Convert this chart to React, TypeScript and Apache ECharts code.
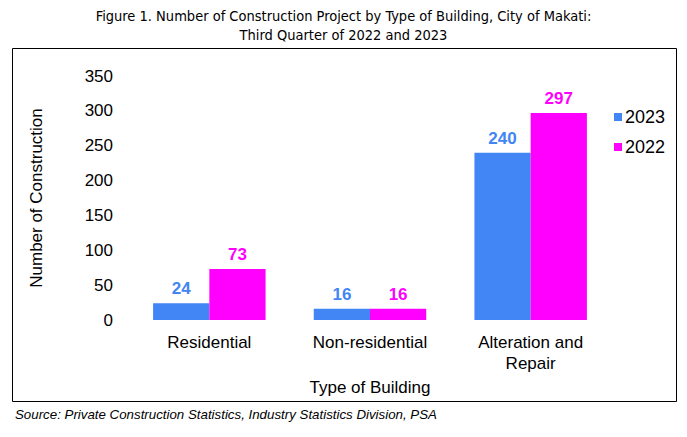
import React, { useEffect, useRef } from "react";
import * as echarts from "echarts";

const categories = ["Residential", "Non-residential", "Alteration and\nRepair"];
const values2023 = [24, 16, 240];
const values2022 = [73, 16, 297];
const seriesNames = ["2023", "2022"];
const colors = ["#4285F4", "#FF00FF"];

export default function App() {
  const ref = useRef<HTMLDivElement>(null);
  useEffect(() => {
    document.body.style.margin = "0";
    const chart = echarts.init(ref.current!, null, { renderer: "svg" });
    const font = "Liberation Sans, Arial, sans-serif";
    const mk = (name: string, data: number[], color: string) => ({
      name,
      type: "bar",
      data,
      barGap: "0%",
      barCategoryGap: "30%",
      itemStyle: { color },
      label: {
        show: true,
        position: "top",
        distance: 6,
        color,
        fontWeight: "bold",
        fontSize: 17,
        fontFamily: font,
      },
    });
    chart.setOption({
      animation: false,
      backgroundColor: "#fff",
      title: {
        text: "Figure 1. Number of Construction Project by Type of Building, City of Makati:\nThird Quarter of 2022 and 2023",
        left: "center",
        top: 2,
        textStyle: {
          fontFamily: "Liberation Sans Narrow, Arial Narrow, DejaVu Sans Condensed, Liberation Sans, sans-serif",
          fontWeight: "normal",
          fontSize: 14.5,
          lineHeight: 18.5,
          color: "#000",
        },
      },
      legend: {
        orient: "vertical",
        left: 609,
        top: 103,
        itemWidth: 8,
        itemHeight: 8,
        itemGap: 12,
        icon: "rect",
        data: seriesNames,
        textStyle: { fontSize: 18, fontFamily: font, color: "#000", padding: [0, 0, 0, -2] },
      },
      grid: { left: 129, right: 76, top: 76, bottom: 117 },
      xAxis: {
        type: "category",
        data: categories,
        name: "Type of Building",
        nameLocation: "middle",
        nameGap: 59,
        nameTextStyle: { fontSize: 17, fontFamily: font, color: "#000" },
        axisLine: { show: false },
        axisTick: { show: false },
        axisLabel: { fontSize: 17, fontFamily: font, color: "#000", lineHeight: 21, margin: 12 },
      },
      yAxis: {
        type: "value",
        min: 0,
        max: 350,
        interval: 50,
        name: "Number of Construction",
        nameLocation: "middle",
        nameGap: 84,
        nameTextStyle: { fontSize: 17, fontFamily: font, color: "#000" },
        splitLine: { show: false },
        axisLine: { show: false },
        axisTick: { show: false },
        axisLabel: { fontSize: 17, fontFamily: font, color: "#000", margin: 16 },
      },
      series: [
        mk(seriesNames[0], values2023, colors[0]),
        mk(seriesNames[1], values2022, colors[1]),
      ],
      graphic: [
        {
          type: "rect",
          shape: { x: 12.5, y: 48.5, width: 664, height: 353 },
          style: { fill: "none", stroke: "#000", lineWidth: 1 },
          silent: true,
        },
        {
          type: "text",
          left: 15,
          top: 408,
          style: {
            text: "Source: Private Construction Statistics, Industry Statistics Division, PSA",
            font: "italic 13.3px Liberation Sans, Arial, sans-serif",
            fill: "#000",
          },
        },
      ],
    });
    return () => chart.dispose();
  }, []);
  return <div ref={ref} style={{ width: 687, height: 437 }} />;
}
